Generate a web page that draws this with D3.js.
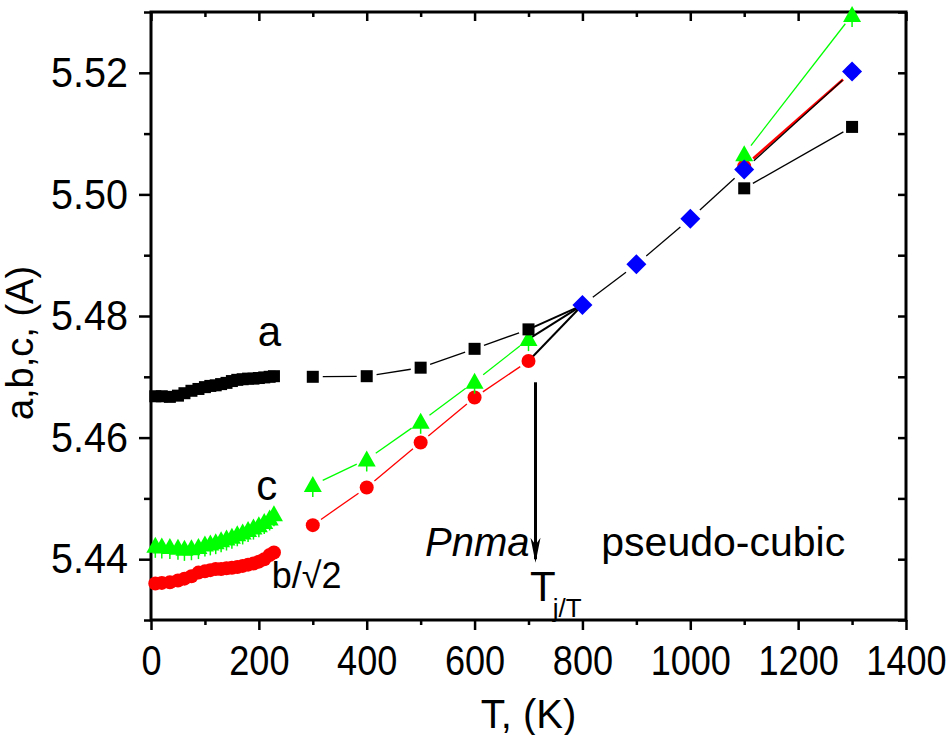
<!DOCTYPE html>
<html>
<head>
<meta charset="utf-8">
<script src="https://cdn.jsdelivr.net/npm/d3@7"></script>
<style>
  body { margin: 0; background: white; }
  svg { display: block; }
  text { font-family: "Liberation Sans", Arial, sans-serif; fill: black; }
</style>
</head>
<body>
<div id="chart"></div>
<script>
// tick values
const xMajorTicks = [0, 200, 400, 600, 800, 1000, 1200, 1400]
const xMinorTicks = [100, 300, 500, 700, 900, 1100, 1300]
const yMajorTicks = [5.44, 5.46, 5.48, 5.50, 5.52]
const yMinorTicks = [5.43, 5.45, 5.47, 5.49, 5.51, 5.53]

// low temperature scans
const tLow = [8, 20, 35, 50, 62, 75, 88, 100, 110, 120, 130, 140, 150, 160, 170, 180, 190, 200, 210, 220, 228]
const aLow = [5.4668, 5.4668, 5.4667, 5.4669, 5.4673, 5.4677, 5.4680, 5.4683, 5.4685, 5.4686, 5.4688,
              5.4690, 5.4693, 5.4695, 5.4696, 5.4697, 5.4697, 5.4698, 5.4699, 5.4700, 5.4701]
const cLow = [5.4422, 5.4421, 5.4420, 5.4419, 5.4417, 5.4418, 5.4420, 5.4424, 5.4426, 5.4428, 5.4431,
              5.4434, 5.4437, 5.4441, 5.4444, 5.4448, 5.4452, 5.4456, 5.4461, 5.4467, 5.4474]
const bLow = [5.4360, 5.4361, 5.4362, 5.4365, 5.4368, 5.4372, 5.4378, 5.4380, 5.4382, 5.4384, 5.4384,
              5.4385, 5.4386, 5.4387, 5.4389, 5.4391, 5.4393, 5.4396, 5.4400, 5.4407, 5.4411]

// orthorhombic Pnma, 300-700 K
const tMid = [300, 400, 500, 600, 700]
const aMid = [5.4700, 5.4701, 5.4715, 5.4746, 5.4778]
const cMid = [5.4522, 5.4564, 5.4626, 5.4692, 5.4762]
const bMid = [5.4456, 5.4518, 5.4592, 5.4666, 5.4726]

// high T split
const tHot = [1100, 1300]
const aHot = [5.5010, 5.5111]
const cHot = [5.5066, 5.5295]
const bHot = [5.5046, 5.5202]

// pseudo-cubic
const tCubic = [800, 900, 1000, 1100, 1300]
const cubic = [5.4818, 5.4885, 5.4960, 5.5041, 5.5202]

const layout = {
    width: 949,
    height: 735,
    left: 151,
    right: 906,
    top: 12,
    bottom: 620
}

const xScale = d3.scaleLinear().domain([0, 1400]).range([layout.left, layout.right])
const yScale = d3.scaleLinear().domain([5.43, 5.53]).range([layout.bottom, layout.top])

const colors = { a: '#000000', c: '#00ff00', b: '#ff0000', cubic: '#0000ff' }

const svg = d3.select('#chart').append('svg')
    .attr('width', layout.width)
    .attr('height', layout.height)

const zip = (ts, vs) => ts.map((t, i) => ({ t, v: vs[i] }))

// ---- axes
const styleAxis = (g) => {
    g.select('.domain').remove()
    g.selectAll('line').attr('stroke', 'black').attr('stroke-width', 2.5)
}

svg.append('g')
    .attr('transform', `translate(0,${layout.bottom})`)
    .call(d3.axisBottom(xScale).tickValues(xMajorTicks).tickSize(10).tickPadding(15).tickFormat(d3.format('d')))
    .call(styleAxis)
    .call(g => g.selectAll('text')
        .attr('font-size', 42)
        .attr('transform', 'scale(0.86,1)'))

svg.append('g')
    .attr('transform', `translate(0,${layout.bottom})`)
    .call(d3.axisBottom(xScale).tickValues(xMinorTicks).tickSize(5).tickFormat(''))
    .call(styleAxis)

svg.append('g')
    .attr('transform', `translate(0,${layout.top})`)
    .call(d3.axisTop(xScale).tickValues(xMajorTicks).tickSize(-9).tickFormat(''))
    .call(styleAxis)

svg.append('g')
    .attr('transform', `translate(0,${layout.top})`)
    .call(d3.axisTop(xScale).tickValues(xMinorTicks).tickSize(-5).tickFormat(''))
    .call(styleAxis)

svg.append('g')
    .attr('transform', `translate(${layout.left},0)`)
    .call(d3.axisLeft(yScale).tickValues(yMajorTicks).tickSize(12).tickPadding(11).tickFormat(d3.format('.2f')))
    .call(styleAxis)
    .call(g => g.selectAll('text')
        .attr('font-size', 43)
        .attr('transform', 'scale(0.92,1)')
        .attr('x', -23 / 0.92))

svg.append('g')
    .attr('transform', `translate(${layout.left},0)`)
    .call(d3.axisLeft(yScale).tickValues(yMinorTicks).tickSize(7).tickFormat(''))
    .call(styleAxis)

svg.append('g')
    .attr('transform', `translate(${layout.right},0)`)
    .call(d3.axisRight(yScale).tickValues(yMajorTicks.concat(yMinorTicks)).tickSize(-8).tickFormat(''))
    .call(styleAxis)

// frame
svg.append('rect')
    .attr('x', layout.left)
    .attr('y', layout.top)
    .attr('width', layout.right - layout.left)
    .attr('height', layout.bottom - layout.top)
    .attr('fill', 'none')
    .attr('stroke', 'black')
    .attr('stroke-width', 3)

// axis titles
svg.append('text')
    .attr('x', (layout.left + layout.right) / 2)
    .attr('y', 728)
    .attr('text-anchor', 'middle')
    .attr('font-size', 40)
    .text('T, (K)')

svg.append('text')
    .attr('transform', `translate(33,${(layout.top + layout.bottom) / 2 + 27}) rotate(-90)`)
    .attr('text-anchor', 'middle')
    .attr('font-size', 38)
    .text('a,b,c, (A)')

// ---- lines
// origin style: segments stop short of the markers
const gappedLine = (pts, color, width, gap) => {
    for (let i = 0; i < pts.length - 1; i++) {
        const x1 = xScale(pts[i].t), y1 = yScale(pts[i].v)
        const x2 = xScale(pts[i + 1].t), y2 = yScale(pts[i + 1].v)
        const len = Math.hypot(x2 - x1, y2 - y1)
        if (len <= 2 * gap) continue
        const ux = (x2 - x1) / len, uy = (y2 - y1) / len
        svg.append('line')
            .attr('x1', x1 + ux * gap).attr('y1', y1 + uy * gap)
            .attr('x2', x2 - ux * gap).attr('y2', y2 - uy * gap)
            .attr('stroke', color)
            .attr('stroke-width', width)
    }
}

gappedLine(zip(tMid, aMid), colors.a, 1.3, 10)
gappedLine(zip(tMid, cMid), colors.c, 1.3, 11)
gappedLine(zip(tMid, bMid), colors.b, 1.3, 10)

// 700 K -> 800 K convergence
const last = tMid.length - 1
;[aMid, cMid, bMid].forEach(series => {
    svg.append('line')
        .attr('x1', xScale(tMid[last])).attr('y1', yScale(series[last]))
        .attr('x2', xScale(tCubic[0])).attr('y2', yScale(cubic[0]))
        .attr('stroke', 'black')
        .attr('stroke-width', 2)
})

gappedLine(zip(tHot, aHot), colors.a, 1.3, 10)
gappedLine(zip(tHot, cHot), colors.c, 1.3, 11)
gappedLine(zip(tHot, bHot), colors.b, 2.6, 12)
gappedLine(zip(tCubic, cubic), 'black', 1.3, 13)

// ---- markers
const drawCircles = (pts, color) =>
    svg.append('g').selectAll('circle')
        .data(pts)
        .join('circle')
        .attr('cx', d => xScale(d.t))
        .attr('cy', d => yScale(d.v))
        .attr('r', 7)
        .attr('fill', color)

const drawTriangles = (pts, color) => {
    const g = svg.append('g').selectAll('g')
        .data(pts)
        .join('g')
        .attr('transform', d => `translate(${xScale(d.t)},${yScale(d.v)})`)
    g.append('line')
        .attr('x1', 0).attr('x2', 0)
        .attr('y1', 0).attr('y2', 12)
        .attr('stroke', color)
        .attr('stroke-width', 1.5)
    g.append('path')
        .attr('d', 'M0,-9L9,7L-9,7Z')
        .attr('fill', color)
}

const drawSquares = (pts, color) =>
    svg.append('g').selectAll('rect')
        .data(pts)
        .join('rect')
        .attr('x', d => xScale(d.t) - 6)
        .attr('y', d => yScale(d.v) - 6)
        .attr('width', 12)
        .attr('height', 12)
        .attr('fill', color)

const drawDiamonds = (pts, color) =>
    svg.append('g').selectAll('path')
        .data(pts)
        .join('path')
        .attr('transform', d => `translate(${xScale(d.t)},${yScale(d.v)})`)
        .attr('d', 'M0,-10L10,0L0,10L-10,0Z')
        .attr('fill', color)

drawCircles(zip(tLow, bLow).concat(zip(tMid, bMid), zip(tHot, bHot)), colors.b)
drawTriangles(zip(tLow, cLow).concat(zip(tMid, cMid), zip(tHot, cHot)), colors.c)
drawSquares(zip(tLow, aLow).concat(zip(tMid, aMid), zip(tHot, aHot)), colors.a)
drawDiamonds(zip(tCubic, cubic), colors.cubic)

// ---- annotations
const label = (t, v, str, size, italic) =>
    svg.append('text')
        .attr('x', xScale(t))
        .attr('y', yScale(v))
        .attr('font-size', size)
        .attr('font-style', italic ? 'italic' : 'normal')
        .text(str)

label(198, 5.4750, 'a', 42)
label(195, 5.4497, 'c', 42)
label(224, 5.4353, 'b/\u221a2', 36)
label(508, 5.4405, 'Pnma', 40, true)
label(835, 5.4405, 'pseudo-cubic', 41)
label(703, 5.4331, 'T', 42)
label(745, 5.4305, 'j/T', 26)

// transition arrow
const arrowX = xScale(713)
svg.append('line')
    .attr('x1', arrowX).attr('x2', arrowX)
    .attr('y1', yScale(5.4691)).attr('y2', yScale(5.4400))
    .attr('stroke', 'black')
    .attr('stroke-width', 3)

svg.append('path')
    .attr('transform', `translate(${arrowX},${yScale(5.4394)})`)
    .attr('d', 'M0,0L-5,-25L0,-18L5,-25Z')
    .attr('fill', 'black')
</script>
</body>
</html>
